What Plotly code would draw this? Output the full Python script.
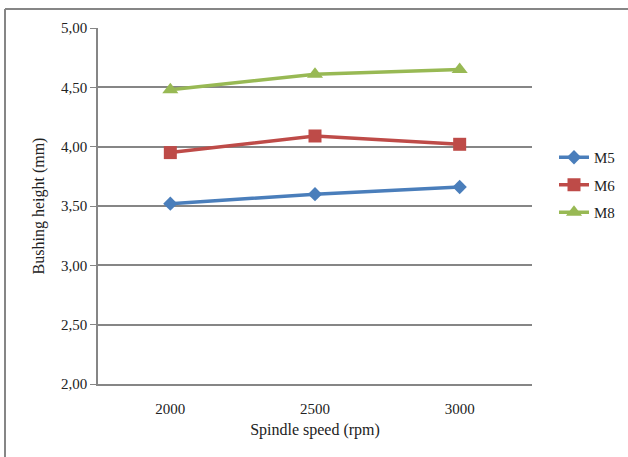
import plotly.graph_objects as go

speeds = ["2000", "2500", "3000"]
m5 = [3.52, 3.60, 3.66]
m6 = [3.95, 4.09, 4.02]
m8 = [4.48, 4.61, 4.65]
series_names = ["M5", "M6", "M8"]
colors = ["#4A7EBB", "#BE4B48", "#98B954"]
symbols = ["diamond", "square", "triangle-up"]
sizes = [11, 13, 14]

W, H = 628, 457
L, R, T, B = 98, 96, 28, 73
pw, ph = W - L - R, H - T - B

fig = go.Figure()
for i, (name, vals) in enumerate(zip(series_names, [m5, m6, m8])):
    fig.add_trace(go.Scatter(
        x=speeds, y=vals, name=name, mode="lines+markers",
        line=dict(color=colors[i], width=3.5),
        marker=dict(symbol=symbols[i], size=sizes[i], color=colors[i]),
        legendgroup=name,
    ))

font = "Liberation Serif"
fig.update_layout(
    width=W, height=H,
    margin=dict(l=L, r=R, t=T, b=B, autoexpand=False),
    paper_bgcolor="white", plot_bgcolor="white",
    separators=",.",
    font=dict(family=font, size=15, color="#222"),
    showlegend=True,
    legend=dict(x=(554 - L) / pw, y=(384 - 141) / ph, xanchor="left", yanchor="top",
                font=dict(size=15, family=font), tracegroupgap=5,
                bgcolor="rgba(0,0,0,0)"),
    xaxis=dict(
        type="category", range=[-0.5, 2.5],
        showgrid=False, showline=True, linecolor="#868686", linewidth=1.5,
        ticks="", ticklabelstandoff=10,
        title=dict(text="Spindle speed (rpm)", font=dict(size=16, family=font), standoff=8),
        tickfont=dict(size=15, family=font),
    ),
    yaxis=dict(
        range=[2.0, 5.0], dtick=0.5, tickformat=".2f",
        showgrid=True, gridcolor="#868686", gridwidth=1.5,
        showline=True, linecolor="#868686", linewidth=1.5,
        ticks="outside", ticklen=6, tickcolor="#868686",
        zeroline=False,
        title=dict(text="Bushing height (mm)", font=dict(size=16, family=font), standoff=12),
        tickfont=dict(size=15, family=font),
    ),
    shapes=[
        dict(type="line", xref="paper", yref="paper",
             x0=(5 - L) / pw, x1=(640 - L) / pw,
             y0=(384 - 9) / ph, y1=(384 - 9) / ph,
             line=dict(color="#868686", width=2)),
        dict(type="line", xref="paper", yref="paper",
             x0=(5 - L) / pw, x1=(5 - L) / pw,
             y0=(384 - 9) / ph, y1=(384 - 470) / ph,
             line=dict(color="#868686", width=2)),
    ],
)

fig.write_html("out.html")
